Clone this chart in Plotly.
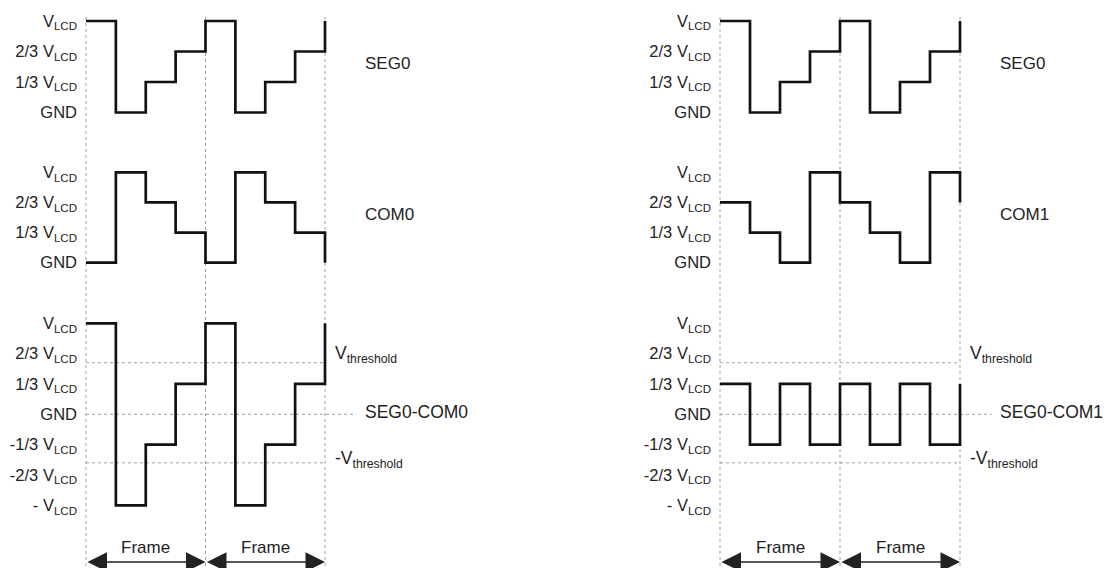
import plotly.graph_objects as go

# LCD drive waveforms, 1/3 bias, in thirds of V_LCD, one value per quarter frame
# (last value is the start of the next frame, drawn as the closing edge)
time_steps = [0, 1, 2, 3, 4, 5, 6, 7, 8]
seg0 = [3, 0, 1, 2, 3, 0, 1, 2, 3]
com0 = [0, 3, 2, 1, 0, 3, 2, 1, 0]
com1 = [2, 1, 0, 3, 2, 1, 0, 3, 2]
seg0_com0 = [3, -3, -1, 1, 3, -3, -1, 1, 3]
seg0_com1 = [1, -1, 1, -1, 1, -1, 1, -1, 1]

v_threshold = 1.7
neg_v_threshold = -1.6

levels_pos = [0, 1, 2, 3]
levels_pos_text = ["GND", "1/3 V<sub>LCD</sub>", "2/3 V<sub>LCD</sub>", "V<sub>LCD</sub>"]
levels_all = [-3, -2, -1, 0, 1, 2, 3]
levels_all_text = ["- V<sub>LCD</sub>", "-2/3 V<sub>LCD</sub>", "-1/3 V<sub>LCD</sub>", "GND",
                   "1/3 V<sub>LCD</sub>", "2/3 V<sub>LCD</sub>", "V<sub>LCD</sub>"]
frame_edges = [0, 4, 8]
frame_mids = [2, 6]

# the page body has an 8px margin, so the figure is a bit smaller than the window
PAGE_W, PAGE_H, BODY = 1112, 568, 8
W, H = PAGE_W - BODY, PAGE_H - BODY
FONT = "Liberation Sans, Arial, sans-serif"
INK = "#111111"
TXT = "#222222"
DOT = "#a0a0a0"


def px_x(p):
    return (p - BODY) / W


def px_y(p):
    return 1 - (p - BODY) / H


# panel placement in window pixels
cols = {
    0: dict(dom=(80, 360), rng=(-0.2008, 9.1715)),
    1: dict(dom=(714, 996), rng=(-0.2, 9.2)),
}
rows = {
    0: dict(dom=(8, 128), rng=(-0.508, 3.426), vals=levels_pos, text=levels_pos_text),
    1: dict(dom=(160, 280), rng=(-0.574, 3.409), vals=levels_pos, text=levels_pos_text),
    2: dict(dom=(312, 525), rng=(-3.65, 3.373), vals=levels_all, text=levels_all_text),
}
series = {
    (0, 0): (seg0, "SEG0"),
    (0, 1): (com0, "COM0"),
    (0, 2): (seg0_com0, "SEG0-COM0"),
    (1, 0): (seg0, "SEG0"),
    (1, 1): (com1, "COM1"),
    (1, 2): (seg0_com1, "SEG0-COM1"),
}

fig = go.Figure()
layout = {}
shapes = []
annotations = []

n = 0
for c in (0, 1):
    for r in (0, 1, 2):
        n += 1
        sfx = "" if n == 1 else str(n)
        xa, ya = "x" + sfx, "y" + sfx
        vals, name = series[(c, r)]
        fig.add_trace(go.Scatter(
            x=time_steps, y=vals, mode="lines", line_shape="hv",
            line=dict(color=INK, width=2.7), xaxis=xa, yaxis=ya,
            showlegend=False, hoverinfo="skip",
        ))
        layout["xaxis" + sfx] = dict(
            domain=[px_x(cols[c]["dom"][0]), px_x(cols[c]["dom"][1])],
            range=list(cols[c]["rng"]), anchor=ya, visible=False, fixedrange=True,
        )
        layout["yaxis" + sfx] = dict(
            domain=[px_y(rows[r]["dom"][1]), px_y(rows[r]["dom"][0])],
            range=list(rows[r]["rng"]), anchor=xa,
            tickmode="array", tickvals=rows[r]["vals"], ticktext=rows[r]["text"],
            showgrid=False, zeroline=False, showline=False, ticks="",
            ticklabelstandoff=2,
            tickfont=dict(family=FONT, size=16.5, color=TXT), fixedrange=True,
        )
        # signal name on the right
        if r < 2:
            annotations.append(dict(
                xref=xa, yref=ya, x=8, y=1.5, xanchor="left", yanchor="middle",
                xshift=38, yshift=3, showarrow=False, text=name,
                font=dict(family=FONT, size=17, color=TXT),
            ))
        else:
            # GND reference and threshold lines
            shapes.append(dict(type="line", xref=xa, yref=ya, x0=0, x1=9.05, y0=0, y1=0,
                               line=dict(color=DOT, width=1, dash="dot"), layer="below"))
            for th in (v_threshold, neg_v_threshold):
                shapes.append(dict(type="line", xref=xa, yref=ya, x0=0, x1=8, y0=th, y1=th,
                                   line=dict(color=DOT, width=1, dash="dot"), layer="below"))
            annotations.append(dict(
                xref=xa, yref=ya, x=8, y=0, xanchor="left", yanchor="middle",
                xshift=38, yshift=2, showarrow=False, text=name, bgcolor="white",
                font=dict(family=FONT, size=17.5, color=TXT),
            ))
            annotations.append(dict(
                xref=xa, yref=ya, x=8, y=v_threshold, xanchor="left", yanchor="middle",
                xshift=8, yshift=8, showarrow=False, text="V<sub>threshold</sub>",
                font=dict(family=FONT, size=17.5, color=TXT),
            ))
            annotations.append(dict(
                xref=xa, yref=ya, x=8, y=neg_v_threshold, xanchor="left", yanchor="middle",
                xshift=8, yshift=3, showarrow=False, text="-V<sub>threshold</sub>",
                font=dict(family=FONT, size=17.5, color=TXT),
            ))
            # frame markers
            for fe in frame_edges:
                shapes.append(dict(type="line", xref=xa, yref="paper", x0=fe, x1=fe,
                                   y0=px_y(566), y1=px_y(14),
                                   line=dict(color=DOT, width=1, dash="dot"), layer="below"))
            for i, fm in enumerate(frame_mids):
                annotations.append(dict(
                    xref=xa, yref="paper", x=fm, y=px_y(547), xanchor="center",
                    yanchor="middle", showarrow=False, text="Frame",
                    font=dict(family=FONT, size=17, color=TXT),
                ))
                annotations.append(dict(
                    xref=xa, yref="paper", x=frame_edges[i + 1], y=px_y(562),
                    axref=xa, ayref="pixel", ax=frame_edges[i], ay=0,
                    showarrow=True, arrowside="end+start", arrowhead=2,
                    arrowsize=2.6, arrowwidth=1.5, arrowcolor=TXT, text="",
                ))

fig.update_layout(
    width=W, height=H, margin=dict(l=0, r=0, t=0, b=0),
    paper_bgcolor="white", plot_bgcolor="white",
    shapes=shapes, annotations=annotations, **layout,
)

fig.write_html("out.html", config={"displayModeBar": False})
